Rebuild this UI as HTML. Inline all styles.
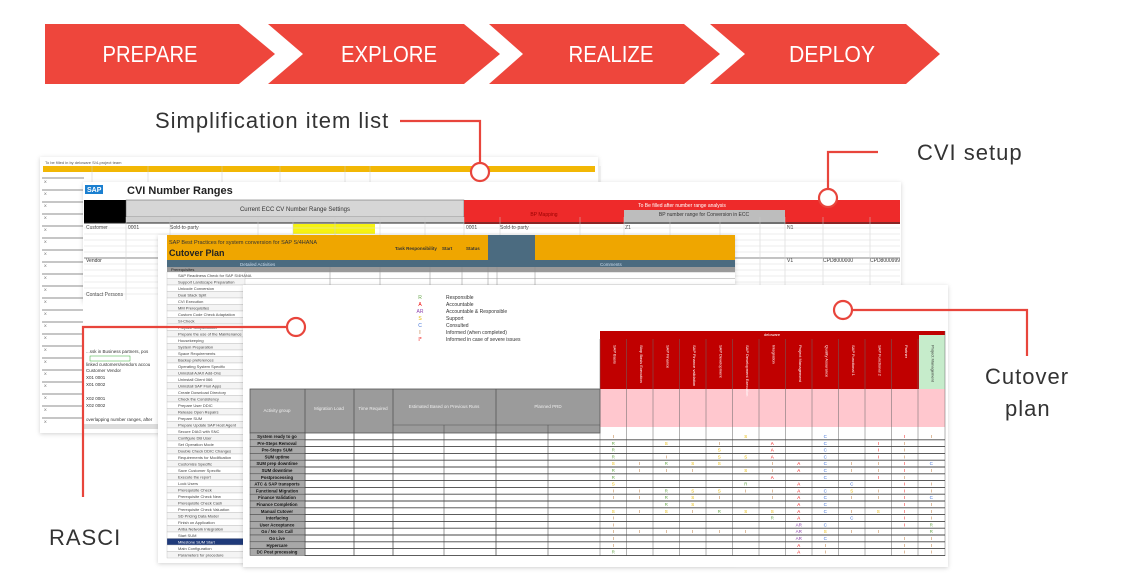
<!DOCTYPE html>
<html><head><meta charset="utf-8"><style>
html,body{margin:0;padding:0;background:#fff;width:1140px;height:585px;overflow:hidden;font-family:"Liberation Sans",sans-serif}
svg{display:block}
</style></head><body>
<svg id="s" width="1140" height="585" xmlns="http://www.w3.org/2000/svg" font-family="Liberation Sans, sans-serif">
<defs><filter id="sh" x="-5%" y="-5%" width="110%" height="110%"><feDropShadow dx="0" dy="1" stdDeviation="2" flood-color="#000" flood-opacity="0.18"/></filter></defs>
<!-- chevrons -->
<polygon points="45,24 239,24 275,54 239,84 45,84" fill="#ee463c"/>
<polygon points="268,24 464,24 500,54 464,84 268,84 303,54" fill="#ee463c"/>
<polygon points="489,24 684,24 720,54 684,84 489,84 523,54" fill="#ee463c"/>
<polygon points="710,24 906,24 940,54 906,84 710,84 745,54" fill="#ee463c"/>
<g fill="#fff" font-size="23" text-anchor="middle" lengthAdjust="spacingAndGlyphs">
<text x="150" y="62" textLength="95" lengthAdjust="spacingAndGlyphs">PREPARE</text>
<text x="389" y="62" textLength="96" lengthAdjust="spacingAndGlyphs">EXPLORE</text>
<text x="611" y="62" textLength="85" lengthAdjust="spacingAndGlyphs">REALIZE</text>
<text x="832" y="62" textLength="86" lengthAdjust="spacingAndGlyphs">DEPLOY</text></g>

<!-- sheet 1 simplification list -->
<g id="g1"><rect x="40" y="157" width="558" height="276" fill="#fff" filter="url(#sh)"/>
<text x="45" y="164" font-size="4" fill="#555">To be filled in by deloware S/4-project team</text>
<rect x="43" y="166" width="552" height="6" fill="#f2b705"/></g>

<!-- sheet 2 CVI -->
<g id="g2"><rect x="83" y="182" width="818" height="120" fill="#fff" filter="url(#sh)"/>
<rect x="83" y="300" width="84" height="132" fill="#fff"/>
<rect x="85" y="185" width="18" height="9" fill="#1a7fd0"/><text x="87" y="192" font-size="7" fill="#fff" font-weight="bold">SAP</text>
<text x="127" y="194" font-size="11" font-weight="bold" fill="#222">CVI Number Ranges</text>
<rect x="84" y="200" width="42" height="23" fill="#000"/>
<rect x="126" y="200" width="338" height="17" fill="#d6d6d6" stroke="#555" stroke-width="0.5"/>
<text x="295" y="211" font-size="6" text-anchor="middle" fill="#333">Current ECC CV Number Range Settings</text>
<rect x="126" y="217" width="338" height="6" fill="#d0d0d0"/>
<rect x="464" y="200" width="436" height="10" fill="#ee2a2a"/>
<text x="682" y="207" font-size="5" fill="#fff" text-anchor="middle">To Be filled after number range analysis</text>
<rect x="464" y="210" width="160" height="14" fill="#ee2a2a"/>
<rect x="624" y="210" width="161" height="14" fill="#bdbdbd"/>
<rect x="785" y="210" width="115" height="14" fill="#ee2a2a"/>
<text x="544" y="216" font-size="5" fill="#900" text-anchor="middle">BP Mapping</text>
<text x="704" y="216" font-size="5" fill="#333" text-anchor="middle">BP number range for Conversion in ECC</text>
<line x1="84" y1="223" x2="900" y2="223" stroke="#222" stroke-width="1"/>
<rect x="293" y="224" width="82" height="10" fill="#f6f312"/>
<text x="86" y="229" font-size="5" fill="#333">Customer</text><text x="128" y="229" font-size="5" fill="#333">0001</text>
<text x="170" y="229" font-size="5" fill="#333">Sold-to-party</text><text x="466" y="229" font-size="5" fill="#333">0001</text><text x="500" y="229" font-size="5" fill="#333">Sold-to-party</text>
<text x="625" y="229" font-size="5" fill="#333">Z1</text><text x="787" y="229" font-size="5" fill="#333">N1</text>
<line x1="84" y1="258" x2="900" y2="258" stroke="#333" stroke-width="1"/>
<text x="86" y="262" font-size="5" fill="#333">Vendor</text><text x="787" y="262" font-size="5" fill="#333">V1</text>
<text x="823" y="262" font-size="5" fill="#333">CPD8000000</text><text x="870" y="262" font-size="5" fill="#333">CPD8000999</text>
<text x="86" y="296" font-size="5" fill="#333">Contact Persons</text>
<text x="86" y="353" font-size="4.5" fill="#333">...ssk in Business partners, pos</text>
<rect x="90" y="356" width="40" height="5" fill="none" stroke="#3a3" stroke-width="0.5"/>
<text x="86" y="366" font-size="4.5" fill="#333">linked customers/vendors accou</text>
<text x="86" y="372" font-size="4.5" fill="#333">Customer    Vendor</text>
<text x="86" y="379" font-size="4.5" fill="#333">X01         0001</text>
<text x="86" y="386" font-size="4.5" fill="#333">X01         0002</text>
<text x="86" y="400" font-size="4.5" fill="#333">X02         0001</text>
<text x="86" y="407" font-size="4.5" fill="#333">X02         0002</text>
<text x="86" y="421" font-size="4.5" fill="#333">overlapping number ranges, after</text>
<rect x="84" y="424" width="83" height="5" fill="#ddd"/>
</g>

<!-- sheet 3 cutover -->
<g id="g3"><rect x="158" y="235" width="577" height="328" fill="#fff" filter="url(#sh)"/>
<rect x="167" y="235" width="568" height="25" fill="#efa600"/>
<text x="169" y="244" font-size="5.5" fill="#333">SAP Best Practices for system conversion for SAP S/4HANA</text>
<text x="169" y="256" font-size="9" font-weight="bold" fill="#222">Cutover Plan</text>
<text x="395" y="250" font-size="4.5" fill="#333" font-weight="bold">Task Responsibility</text>
<text x="442" y="250" font-size="4.5" fill="#333" font-weight="bold">Start</text><text x="466" y="250" font-size="4.5" fill="#333" font-weight="bold">Status</text>
<rect x="488" y="235" width="47" height="34" fill="#4b6b80"/>
<rect x="167" y="260" width="568" height="7" fill="#4b6b80"/>
<text x="240" y="266" font-size="4.5" fill="#cde">Detailed Activities</text>
<text x="600" y="266" font-size="4.5" fill="#cde">Comments</text>
<rect x="167" y="267" width="568" height="5" fill="#9a9a9a"/>
<text x="171" y="271" font-size="4" fill="#222">Prerequisites</text>
</g>

<!-- sheet 4 RASCI -->
<g id="g4"><rect x="243" y="285" width="705" height="282" fill="#fff" filter="url(#sh)"/>
<rect x="600" y="331" width="345" height="58" fill="#c00000"/>
<rect x="919" y="335" width="26" height="54" fill="#c6eccb"/>
<rect x="600" y="389" width="345" height="38" fill="#ffc7ce"/>
<rect x="250" y="389" width="350" height="44" fill="#9b9b9b" stroke="#555" stroke-width="0.8"/>
</g>

<!-- callouts -->
<g stroke="#e8453c" stroke-width="2.2" fill="none">
<polyline points="400,121 480,121 480,163"/><circle cx="480" cy="172" r="9" fill="#fff"/>
<polyline points="878,152 828,152 828,189"/><circle cx="828" cy="198" r="9" fill="#fff"/>
<polyline points="852,310 1027,310 1027,356"/><circle cx="843" cy="310" r="9" fill="#fff"/>
<polyline points="287,327 83,327 83,497"/><circle cx="296" cy="327" r="9" fill="#fff"/>
</g>
<g fill="#333" font-size="22" letter-spacing="1">
<text x="155" y="128">Simplification item list</text>
<text x="917" y="160">CVI setup</text>
<text x="985" y="384">Cutover</text><text x="1005" y="416">plan</text>
<text x="49" y="545">RASCI</text></g>
</svg>
<script>
var S=document.getElementById('s'),NS='http://www.w3.org/2000/svg';
function el(p,t,a,txt){var e=document.createElementNS(NS,t);for(var k in a)e.setAttribute(k,a[k]);if(txt!=null)e.textContent=txt;document.getElementById(p).appendChild(e);return e;}
var y;
for(y=178;y<430;y+=12){el('g1','line',{x1:42,y1:y,x2:84,y2:y,stroke:'#666','stroke-width':0.8});el('g1','text',{x:44,y:y+5,'font-size':4,fill:'#555'},'X');}
[92,148,222,280,345,370,600].forEach(function(x){el('g1','line',{x1:x,y1:166,x2:x,y2:182,stroke:'#ccc','stroke-width':0.5});});
[126,170,258,293,335,380,425,464,500,580,624,670,720,760,785,823,870].forEach(function(x){el('g2','line',{x1:x,y1:217,x2:x,y2:300,stroke:'#ccc','stroke-width':0.5});});
for(y=228;y<300;y+=6)el('g2','line',{x1:84,y1:y,x2:900,y2:y,stroke:'#ddd','stroke-width':0.5});
var acts=['SAP Readiness Check for SAP S/4HANA','Support Landscape Preparation','Unicode Conversion','Dual Stack Split','CVI Execution','MM Prerequisites','Custom Code Check Adaptation','SI-Check','Prepare Simplification','Prepare the use of the Maintenance','Housekeeping','System Preparation','Space Requirements','Backup preferences','Operating System Specific','Uninstall AJAX Add-Ons','Uninstall Client 066','Uninstall SAP Fiori Apps','Create Download Directory','Check the Consistency','Prepare User DDIC','Release Open Repairs','Prepare SUM','Prepare Update SAP Host Agent','Secure DIAG with SNC','Configure DB User','Set Operation Mode','Double Check DDIC Changes','Requirements for Modification','Customize Specific','Save Customer Specific','Execute the report','Lock Users','Prerequisite Check','Prerequisite Check New','Prerequisite Check Cash','Prerequisite Check Valuation','SD Pricing Data Model','Finish on Application','Ariba Network Integration','Start SUM','Milestone SUM Start','Main Configuration','Parameters for procedure'];
for(var i=0;i<acts.length;i++){y=272+i*6.5;if(y>560)break;
 el('g3','rect',{x:167,y:y,width:78,height:6.5,fill:(i==41?'#1f3a7a':(i%2?'#f4f4f4':'#fff')),stroke:'#aaa','stroke-width':0.3});
 el('g3','text',{x:178,y:y+5,'font-size':4,fill:(i==41?'#fff':'#444')},acts[i]);}
[330,380,430,462,488,497,535].forEach(function(x){el('g3','line',{x1:x,y1:267,x2:x,y2:287,stroke:'#888','stroke-width':0.5});});
for(y=272;y<290;y+=6.5)el('g3','line',{x1:245,y1:y,x2:735,y2:y,stroke:'#999','stroke-width':0.5});
var L=[['R','#6aa84f','Responsible'],['A','#e00','Accountable'],['AR','#8e44ad','Accountable & Responsible'],['S','#e6b800','Support'],['C','#3d6fd6','Consulted'],['I','#b5651d','Informed (when completed)'],['I*','#e00','Informed in case of severe issues']];
L.forEach(function(l,i){el('g4','text',{x:420,y:299+i*7,'font-size':5,fill:l[1],'text-anchor':'middle'},l[0]);el('g4','text',{x:446,y:299+i*7,'font-size':5,fill:'#333'},l[2]);});
var cols=['SAP Basis','Stop Basis Execution','SAP Finance','SAP Finance validation','SAP Development','SAP Development Execution','Integration','Project Management','Quality Assurance','SAP Functional 1','SAP Functional 2','Partner','Project Management'];
el('g4','text',{x:772,y:336,'font-size':4,fill:'#fff','text-anchor':'middle'},'deloware');
var cw=26.5;
for(var c=0;c<13;c++){var x=600+c*cw;
 el('g4','line',{x1:x,y1:339,x2:x,y2:556,stroke:'#666','stroke-width':0.5});
 el('g4','text',{x:x+cw/2,y:345,'font-size':4,fill:(c==12?'#333':'#fff'),transform:'rotate(90 '+(x+cw/2)+' 345)'},cols[c]);}
el('g4','line',{x1:945,y1:331,x2:945,y2:556,stroke:'#666','stroke-width':0.5});
[305,354,393,496].forEach(function(x){el('g4','line',{x1:x,y1:389,x2:x,y2:556,stroke:'#555','stroke-width':0.8});});
[444,548].forEach(function(x){el('g4','line',{x1:x,y1:425,x2:x,y2:556,stroke:'#555','stroke-width':0.6});});
el('g4','line',{x1:393,y1:425,x2:600,y2:425,stroke:'#555','stroke-width':0.6});
el('g4','text',{x:277,y:412,'font-size':4.5,fill:'#eee','text-anchor':'middle'},'Activity group');
el('g4','text',{x:329,y:410,'font-size':4.5,fill:'#eee','text-anchor':'middle'},'Migration Load');
el('g4','text',{x:373,y:410,'font-size':4.5,fill:'#eee','text-anchor':'middle'},'Time Required');
el('g4','text',{x:444,y:408,'font-size':4.5,fill:'#eee','text-anchor':'middle'},'Estimated Based on Previous Runs');
el('g4','text',{x:548,y:408,'font-size':4.5,fill:'#eee','text-anchor':'middle'},'Planned PRD');
var rows=['System ready to go','Pre-Steps Removal','Pre-Steps SUM','SUM uptime','SUM prep downtime','SUM downtime','Postprocessing','ATC & SAP transports','Functional Migration','Finance Validation','Finance Completion','Manual Cutover','Interfacing','User Acceptance','Go / No Go Call','Go Live','Hypercare','DC Post processing'];
var rh=6.8,clr={R:'#6aa84f',A:'#e00',AR:'#8e44ad',S:'#e6b800',C:'#3d6fd6',I:'#b5651d',F:'#e00'};
var data=['I....S..C..FI','R.S.I.A.C.FI','R...S.A.C.FI','R.I.SSA.C.FI','SIRSS.IACIIFC','RIII.SIACIIFI','R.....A.C.FI','S....R.A.C.FI','IIRSSIIACSIFI','IIRSI.IACIIFC','..RS...AC..FI','SISIRSSACISFI','I.....RA.C.FI','I......AC..FR','IIIIII.ASII.R','I......AC..II','I......AI..II','R......AI..II'];
for(var r=0;r<rows.length;r++){y=433+r*rh;
 el('g4','rect',{x:250,y:y,width:55,height:rh,fill:'#a8a8a8',stroke:'#444','stroke-width':0.5});
 el('g4','line',{x1:305,y1:y+rh,x2:945,y2:y+rh,stroke:'#444','stroke-width':0.9});
 el('g4','text',{x:277,y:y+5,'font-size':4.3,'font-weight':'bold',fill:'#111','text-anchor':'middle'},rows[r]);
 var d=data[r];for(var c=0;c<13;c++){var ch=d[c];if(ch&&ch!='.'){var lab=ch=='F'?'I':ch;if(c==7&&ch=='A'&&(r==13||r==14||r==15))lab='AR';
  el('g4','text',{x:600+c*cw+cw/2,y:y+5,'font-size':4.5,fill:(lab=='AR'?clr.AR:clr[ch]),'text-anchor':'middle'},lab);}}}
</script>
</body></html>
